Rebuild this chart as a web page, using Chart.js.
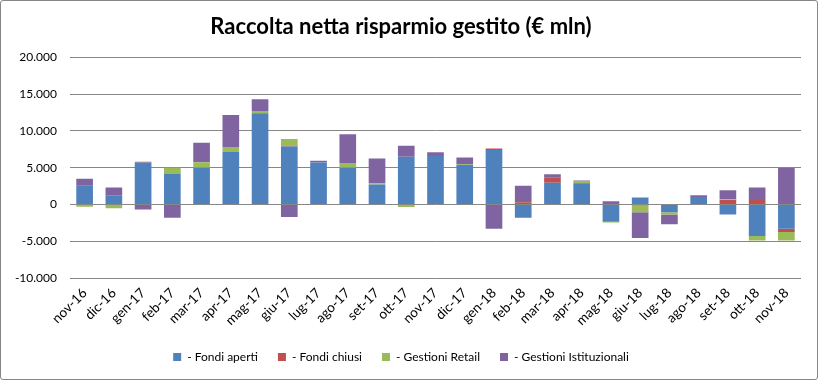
<!DOCTYPE html>
<html><head><meta charset="utf-8">
<script src="https://cdn.jsdelivr.net/npm/chart.js@4/dist/chart.umd.min.js"></script>
<style>
html,body{margin:0;padding:0;background:#fff;}
#wrap{position:absolute;left:0;top:0;width:816px;height:378px;border:1px solid #868686;border-radius:3px;}
canvas{display:block;}
</style></head>
<body><div id="wrap"><canvas id="c" width="816" height="378"></canvas></div>
<script>
const categories = ["nov-16","dic-16","gen-17","feb-17","mar-17","apr-17","mag-17","giu-17","lug-17","ago-17","set-17","ott-17","nov-17","dic-17","gen-18","feb-18","mar-18","apr-18","mag-18","giu-18","lug-18","ago-18","set-18","ott-18","nov-18"];
const fondiAperti = [2500,1200,5700,4200,5000,7150,12400,7900,5700,5000,2700,6500,6600,5400,7400,-1800,2950,2800,-2350,950,-1050,1000,-1350,-4300,-3300];
const fondiChiusi = [100,0,100,0,0,0,0,100,0,0,0,0,0,0,200,300,750,100,0,-150,0,0,600,600,-450];
const gestioniRetail = [-300,-500,0,800,750,650,300,900,0,650,200,-350,0,100,0,50,0,300,-100,-900,-300,0,100,-600,-1150];
const gestioniIstituzionali = [900,1100,-700,-1800,2650,4350,1600,-1700,250,3900,3350,1500,500,900,-3300,2200,400,50,450,-3500,-1350,250,1250,1700,4950];
const yTicks = [-10000,-5000,0,5000,10000,15000,20000];
const seriesNames = ["- Fondi aperti","- Fondi chiusi","- Gestioni Retail","- Gestioni Istituzionali"];
const colors = ["#4F81BD","#C0504D","#9BBB59","#8064A2"];

const fmt = v => {
  const s = Math.abs(v).toString().replace(/\B(?=(\d{3})+(?!\d))/g, ".");
  return (v < 0 ? "-" : "") + s;
};
const FONT = "Lato, 'Open Sans', sans-serif";
const dataSets = [fondiAperti, fondiChiusi, gestioniRetail, gestioniIstituzionali].map((d,i)=>({
  label: seriesNames[i], data: d, backgroundColor: colors[i], borderWidth: 0,
  barPercentage: 0.57, categoryPercentage: 1.0, stack: "s"
}));

new Chart(document.getElementById("c"), {
  type: "bar",
  data: { labels: categories, datasets: dataSets },
  options: {
    responsive: false, animation: false,
    layout: { padding: { left: 0, right: 16, top: 0, bottom: 6 } },
    plugins: {
      title: { display: true, text: "Raccolta netta risparmio gestito (€ mln)", color: "#000",
        font: { family: FONT, size: 22, weight: "bold" }, padding: { top: 13, bottom: 17 } },
      legend: { position: "bottom", labels: { boxWidth: 8, boxHeight: 8, color: "#000",
        font: { family: FONT, size: 12 }, padding: 20 } },
      tooltip: { enabled: false }
    },
    scales: {
      x: { stacked: true, grid: { display: false, drawTicks: false }, border: { display: false },
        ticks: { color: "#000", font: { family: FONT, size: 13.5 }, maxRotation: 45, minRotation: 45, autoSkip: false, padding: 7 },
        afterFit: s => { s.height = 53; } },
      y: { stacked: true, min: -10000, max: 20000,
        afterBuildTicks: s => { s.ticks = yTicks.map(v => ({ value: v })); },
        grid: { color: "#878787", drawTicks: false, lineWidth: 1 }, border: { display: false },
        ticks: { color: "#000", font: { family: FONT, size: 12 }, padding: 13, callback: v => fmt(v) },
        afterFit: s => { s.width = 69; } }
    }
  }
});
</script></body></html>
